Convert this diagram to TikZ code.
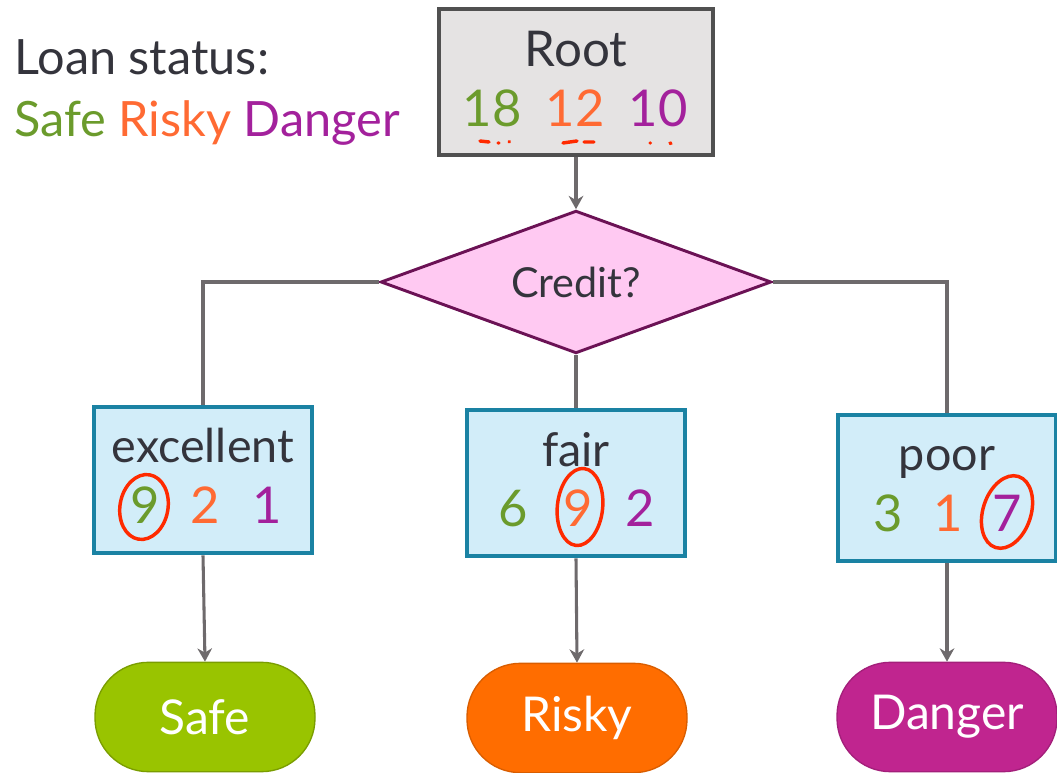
\documentclass[tikz,border=0pt]{standalone}
\usepackage{fontspec}
\setmainfont{Lato}
\usetikzlibrary{shapes.geometric,arrows.meta}
\newdimen\unitsize
\setlength{\unitsize}{0.75pt}
\definecolor{inkgray}{HTML}{34343C}
\definecolor{linkgray}{HTML}{6E6A6C}
\definecolor{safetxt}{HTML}{6B9B2C}
\definecolor{riskytxt}{HTML}{FF6A33}
\definecolor{dangertxt}{HTML}{A3219C}
\definecolor{rootfill}{HTML}{E5E3E3}
\definecolor{rootline}{HTML}{505050}
\definecolor{credfill}{HTML}{FFC9F2}
\definecolor{credline}{HTML}{6B1255}
\definecolor{boxfill}{HTML}{D2EDF9}
\definecolor{boxline}{HTML}{1A82A3}
\definecolor{safefill}{HTML}{99C400}
\definecolor{riskyfill}{HTML}{FF6D00}
\definecolor{dangerfill}{HTML}{C0258F}
\definecolor{penred}{HTML}{FF2A00}

\begin{document}
\begin{tikzpicture}[x=\unitsize,y=-\unitsize]
\tikzset{rootbox/.style={draw=rootline, fill=rootfill, line width=3pt, minimum width=206pt, minimum height=110pt}}%
\tikzset{branch/.style={draw=boxline, fill=boxfill, line width=3pt, minimum width=163pt, minimum height=110pt}}%
\tikzset{decide/.style={diamond, aspect=2.7, draw=credline, fill=credfill, line width=2.2pt, inner sep=0pt, minimum width=293pt, minimum height=107pt, text=inkgray, font=\fontsize{31}{36}\selectfont}}%
\tikzset{leaf/.style={rounded corners=40pt, line width=1pt, minimum width=165pt, minimum height=82pt, text=white, font=\fontsize{36}{40}\selectfont}}%
\tikzset{word/.style={anchor=base, inner sep=0pt, text=inkgray, font=\fontsize{35}{38}\selectfont}}%
\tikzset{count/.style={anchor=base, inner sep=0pt, font=\fontsize{38}{40}\selectfont}}%
\tikzset{link/.style={draw=linkgray, line width=2.3pt}}%
\tikzset{redpen/.style={draw=penred, line width=2.6pt, line cap=round}}%
\useasboundingbox (0,0) rectangle (1057,773);
% legend
\node[anchor=base west, inner sep=0pt, text=inkgray, font=\fontsize{36.5}{40}\selectfont] (legend) at (14,75) {Loan status:};
\node[anchor=base west, inner sep=0pt, font=\fontsize{36.5}{40}\selectfont] (legendcols) at (14,137)
  {\textcolor{safetxt}{Safe} \textcolor{riskytxt}{Risky} \textcolor{dangertxt}{Danger}};
% root
\node[rootbox] (root) at (576,82) {};
\node[word, font=\fontsize{37}{40}\selectfont] (rootlbl) at (576,67) {Root};
\node[count, text=safetxt] (root-s) at (492,127) {18};
\node[count, text=riskytxt] (root-r) at (575,127) {12};
\node[count, text=dangertxt] (root-d) at (658,127) {10};
\draw[redpen] (480,141) -- (489,142) (498,143) -- (499,143) (509,142) -- (509.5,141.5);
\draw[redpen] (563,143) -- (577,141) (584,142) -- (594,142);
\draw[redpen] (650,143) -- (650.5,143) (670,143) -- (671,143.5);
% split
\node[decide] (credit) at (576,282) {Credit?};
% branches
\node[branch] (exc) at (203,480) {};
\node[word] (exclbl) at (203,463) {excellent};
\node[count, text=safetxt] (exc-s) at (145,523) {9};
\node[count, text=riskytxt] (exc-r) at (205,523) {2};
\node[count, text=dangertxt] (exc-d) at (267,523) {1};
\node[branch] (fair) at (576,483) {};
\node[word] (fairlbl) at (576,467) {fair};
\node[count, text=safetxt] (fair-s) at (513,527) {6};
\node[count, text=riskytxt] (fair-r) at (578,527) {9};
\node[count, text=dangertxt] (fair-d) at (640,527) {2};
\node[branch] (poor) at (947,488) {};
\node[word] (poorlbl) at (947,470) {poor};
\node[count, text=safetxt] (poor-s) at (888,531) {3};
\node[count, text=riskytxt] (poor-r) at (948,531) {1};
\node[count, text=dangertxt] (poor-d) at (1007,531) {7};
\draw[redpen, rotate around={-10:(144,507)}] (144,507) ellipse [x radius=18pt, y radius=24.5pt];
\draw[redpen, rotate around={-6:(580,507)}] (580,507) ellipse [x radius=17pt, y radius=29pt];
\draw[redpen, rotate around={-18:(1007,512)}] (1007,512) ellipse [x radius=18pt, y radius=28pt];
% leaves
\node[leaf, draw=safefill!80!black, fill=safefill] (safe) at (205,717) {Safe};
\node[leaf, draw=riskyfill!85!black, fill=riskyfill] (risky) at (577,718) {Risky};
\node[leaf, draw=dangerfill!85!black, fill=dangerfill] (danger) at (947,717) {Danger};
% connectors
\draw[link, -{Stealth[length=10pt,width=11pt]}] (root.south) -- (credit.north);
\draw[link] (credit.west) -| (exc.north);
\draw[link] (credit.south) -- (fair.north);
\draw[link] (credit.east) -| (poor.north);
\draw[link, -{Stealth[length=10pt,width=11pt]}] (exc.south) -- (safe.north);
\draw[link, -{Stealth[length=10pt,width=11pt]}] (fair.south) -- (risky.north);
\draw[link, -{Stealth[length=10pt,width=11pt]}] (poor.south) -- (danger.north);
\end{tikzpicture}
\end{document}
